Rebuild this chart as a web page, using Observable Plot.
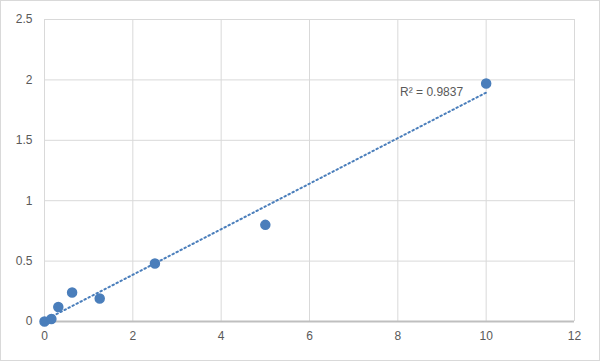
<!DOCTYPE html>
<html>
<head>
<meta charset="utf-8">
<script src="https://cdn.jsdelivr.net/npm/d3@7"></script>
<script src="https://cdn.jsdelivr.net/npm/@observablehq/plot@0.6"></script>
<style>
  html, body { margin: 0; padding: 0; background: #fff; }
  #frame { width: 598px; height: 359px; border: 1px solid #d9d9d9; overflow: hidden; }
  svg { display: block; }
</style>
</head>
<body>
<div id="frame"></div>
<script>
const concentration = [0, 0.156, 0.3125, 0.625, 1.25, 2.5, 5, 10];
const od = [0, 0.02, 0.12, 0.24, 0.19, 0.48, 0.80, 1.97];
const xTicks = [0, 2, 4, 6, 8, 10, 12];
const yTicks = [0, 0.5, 1, 1.5, 2, 2.5];
const r2Label = "R² = 0.9837";

const data = concentration.map((c, i) => ({x: c, y: od[i]}));
const blue = "#4a7ebb";
const grey = "#d9d9d9";
const textCol = "#595959";
const fmt = d => String(d);

const chart = Plot.plot({
  width: 598,
  height: 359,
  marginLeft: 43,
  marginRight: 25,
  marginTop: 18,
  marginBottom: 39,
  style: {fontFamily: "'Liberation Sans', Arial, sans-serif", fontSize: "12px", color: textCol, background: "#fff"},
  x: {domain: [0, 12], label: null},
  y: {domain: [0, 2.5], label: null},
  marks: [
    Plot.gridX(xTicks, {stroke: grey, strokeOpacity: 1, strokeWidth: 1}),
    Plot.gridY(yTicks, {stroke: grey, strokeOpacity: 1, strokeWidth: 1}),
    Plot.ruleY([0], {stroke: "#bfbfbf", strokeWidth: 2}),
    Plot.axisX({ticks: xTicks, tickSize: 0, tickPadding: 10, tickFormat: fmt, label: null, fill: textCol, fontSize: 12}),
    Plot.axisY({ticks: yTicks, tickSize: 0, tickPadding: 12, tickFormat: fmt, label: null, fill: textCol, fontSize: 12}),
    Plot.linearRegressionY(data, {x: "x", y: "y", ci: 0, stroke: blue, strokeWidth: 2, strokeDasharray: "1.5,3"}),
    Plot.dot(data, {x: "x", y: "y", r: 4.5, fill: blue, stroke: blue}),
    Plot.text([r2Label], {x: 8.05, y: 1.9, text: d => d, textAnchor: "start", fill: textCol, fontSize: 12})
  ]
});
document.getElementById("frame").appendChild(chart);
</script>
</body>
</html>
